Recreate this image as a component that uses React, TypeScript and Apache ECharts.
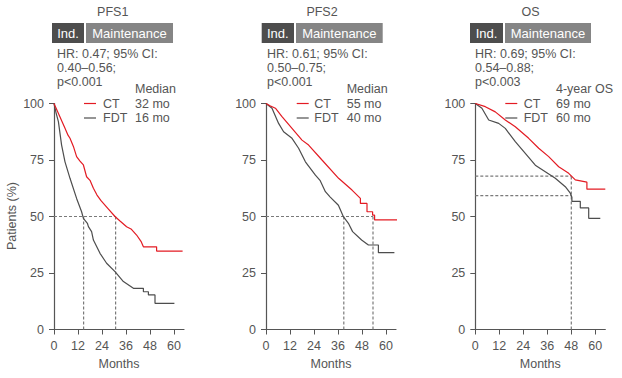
import React, { useEffect, useRef } from "react";
import * as echarts from "echarts";

// ---- data ----
const panelTitles = ["PFS1", "PFS2", "OS"];
const hrLines = [
  ["HR: 0.47; 95% CI:", "0.40–0.56;", "p<0.001"],
  ["HR: 0.61; 95% CI:", "0.50–0.75;", "p<0.001"],
  ["HR: 0.69; 95% CI:", "0.54–0.88;", "p<0.003"],
];
const statHeaders = ["Median", "Median", "4-year OS"];
const ctStats = ["32 mo", "55 mo", "69 mo"];
const fdtStats = ["16 mo", "40 mo", "60 mo"];
const seriesNames = ["CT", "FDT"];
const xTicks = [0, 12, 24, 36, 48, 60];
const yTicks = [0, 25, 50, 75, 100];

const pfs1CT = [[0,100],[2,96],[4,92],[5.5,89],[7,86],[8,84.6],[9.7,81],[11.3,76.5],[13,74.5],[14.7,72.8],[16.3,67.6],[18,66],[19.7,62.5],[21.5,59.5],[23.5,57],[27,53.5],[30.5,50],[33,48],[36.3,45.5],[38.5,44.5],[41.3,41.8],[43.5,39],[44.7,36.6],[51.3,36.6],[51.3,34.7],[64.3,34.7]];
const pfs1FDT = [[0,100],[1,96],[2.2,92],[3.8,81.6],[5.5,74.2],[8,66.9],[11.3,58],[13.8,52.1],[14.7,49.2],[16.7,47],[17.2,45.5],[18.8,43.3],[19.7,39.6],[23,33.7],[26.3,29.3],[30.5,25.6],[34.7,21.2],[39.7,18.2],[44.7,18.2],[44.7,16.7],[47.2,16.7],[47.2,15.3],[50.5,15.3],[50.5,11.6],[60.2,11.6]];
const pfs2CT = [[0,100],[2,99],[4.7,97.9],[8,94.2],[13,89],[18,83.8],[21.3,81.6],[28,75],[36.3,66.9],[43,61.7],[47.2,58],[47.2,55.8],[50.5,55.8],[50.5,52.1],[53.3,52.1],[53.3,50.6],[54.3,50.6],[54.3,48.5],[65.5,48.5]];
const pfs2FDT = [[0,100],[3,97.9],[6.3,91.2],[8.8,87.5],[13,84.6],[16.3,80.2],[19.7,74.2],[24.7,68.3],[27,66],[29.7,61],[32,58.7],[36.2,55],[38.7,49.9],[41.2,47],[43.3,43.3],[47.8,39.6],[51.2,37.4],[56.2,37.4],[56.2,34],[64.2,34]];
const osCT = [[0,100],[5,98.6],[10,96.3],[15,92.7],[20,89.7],[26.7,84.6],[31.7,80.2],[36.7,76.5],[41.7,72],[46.7,69.1],[50,66.2],[55.8,65.2],[55.8,62.1],[65,62.1]];
const osFDT = [[0,100],[3.3,97.9],[6.7,92.7],[11.7,91.2],[15,89],[20,83.1],[25,77.9],[30,72.7],[35,69.8],[40,66.9],[45,63.2],[47.5,60.3],[48.3,58.5],[48.3,56.7],[52.5,56.7],[52.5,53.8],[56.7,53.8],[56.7,49.2],[62.5,49.2]];

const pfs1Ref = [[[0,50],[30.8,50]],[[14.8,0],[14.8,50]],[[30.8,0],[30.8,50]]];
const pfs2Ref = [[[0,50],[53.5,50]],[[38.9,0],[38.9,50]],[[53.5,0],[53.5,50]]];
const osRef = [[[0,67.9],[48,67.9]],[[0,59.2],[48,59.2]],[[48,0],[48,67.9]]];

const ctData = [pfs1CT, pfs2CT, osCT];
const fdtData = [pfs1FDT, pfs2FDT, osFDT];
const refData = [pfs1Ref, pfs2Ref, osRef];

const FONT = "'Liberation Sans', Arial, sans-serif";
const TXT = "#555555";
const RED = "#e31b23";
const GRAY = "#4d4d4d";

export default function App() {
  const ref = useRef<HTMLDivElement>(null);
  useEffect(() => {
    if (!ref.current) return;
    const chart = echarts.init(ref.current, undefined, { renderer: "svg" });
    const gridLefts = [54, 266, 475.3];
    const grids = gridLefts.map((l) => ({ left: l, top: 103.5, width: 130, height: 226 }));
    const xAxes = gridLefts.map((_, i) => ({
      type: "value", gridIndex: i, min: 0, max: 65,
      splitLine: { show: false },
      axisLine: { lineStyle: { color: "#555", width: 1.2 } },
      axisTick: { customValues: xTicks, length: 5, lineStyle: { color: "#555" } },
      axisLabel: { customValues: xTicks, color: TXT, fontSize: 12.5, fontFamily: FONT, margin: 10 },
      name: "Months", nameLocation: "middle", nameGap: 28,
      nameTextStyle: { color: TXT, fontSize: 12.5, fontFamily: FONT },
    }));
    const yAxes = gridLefts.map((_, i) => ({
      type: "value", gridIndex: i, min: 0, max: 100, interval: 25,
      splitLine: { show: false },
      axisLine: { show: true, lineStyle: { color: "#555", width: 1.2 } },
      axisTick: { show: true, length: 5, lineStyle: { color: "#555" } },
      axisLabel: { color: TXT, fontSize: 12.5, fontFamily: FONT, margin: 10 },
    }));
    const series: any[] = [];
    for (let i = 0; i < 3; i++) {
      refData[i].forEach((seg) => {
        series.push({
          type: "line", xAxisIndex: i, yAxisIndex: i, data: seg, showSymbol: false, silent: true,
          lineStyle: { color: "#7a7a7a", width: 1.2, type: [3, 2] },
        });
      });
      series.push({
        type: "line", name: seriesNames[1], xAxisIndex: i, yAxisIndex: i, data: fdtData[i], showSymbol: false,
        lineStyle: { color: GRAY, width: 1.2 },
      });
      series.push({
        type: "line", name: seriesNames[0], xAxisIndex: i, yAxisIndex: i, data: ctData[i], showSymbol: false,
        lineStyle: { color: RED, width: 1.2 },
      });
    }
    const titleX = [112.7, 322, 530.5];
    const indBox = [[52, 84, 86, 173], [261.7, 294, 296, 382.7], [470, 503, 505, 591]];
    const hrX = [57, 267, 475];
    const statX = [135, 346.7, 556];
    const legLineX = [84, 296.7, 505.3];
    const legTextX = [103, 314.3, 523.7];
    const graphic: any[] = [];
    const txt = (x: number, y: number, text: string, extra: any = {}) => ({
      type: "text", x, y,
      style: { text, fill: TXT, font: `12.5px ${FONT}`, lineHeight: 14, textVerticalAlign: "middle", ...extra },
    });
    for (let i = 0; i < 3; i++) {
      graphic.push(txt(titleX[i], 12, panelTitles[i], { textAlign: "center" }));
      const b = indBox[i];
      graphic.push({ type: "rect", shape: { x: b[0], y: 23, width: b[1] - b[0], height: 20 }, style: { fill: "#4d4d4d" } });
      graphic.push({ type: "rect", shape: { x: b[2], y: 23, width: b[3] - b[2], height: 20 }, style: { fill: "#858585" } });
      graphic.push(txt((b[0] + b[1]) / 2, 33, "Ind.", { textAlign: "center", fill: "#fff", font: `13px ${FONT}` }));
      graphic.push(txt((b[2] + b[3]) / 2, 33, "Maintenance", { textAlign: "center", fill: "#fff", font: `13px ${FONT}` }));
      graphic.push(txt(hrX[i], 68, hrLines[i].join("\n")));
      graphic.push(txt(statX[i], 103.5, [statHeaders[i], ctStats[i], fdtStats[i]].join("\n"), { lineHeight: 14.5 }));
      graphic.push({ type: "line", shape: { x1: legLineX[i], y1: 103.5, x2: legLineX[i] + 12, y2: 103.5 }, style: { stroke: RED, lineWidth: 1.2 } });
      graphic.push({ type: "line", shape: { x1: legLineX[i], y1: 118, x2: legLineX[i] + 12, y2: 118 }, style: { stroke: GRAY, lineWidth: 1.2 } });
      graphic.push(txt(legTextX[i], 110.75, seriesNames.join("\n"), { lineHeight: 14.5 }));
    }
    graphic.push({
      type: "text", x: 12, y: 216, rotation: Math.PI / 2,
      style: { text: "Patients (%)", fill: TXT, font: `12.5px ${FONT}`, textAlign: "center", textVerticalAlign: "middle" },
    });
    chart.setOption({
      animation: false,
      grid: grids,
      xAxis: xAxes,
      yAxis: yAxes,
      series,
      graphic,
    });
    return () => chart.dispose();
  }, []);
  return <div ref={ref} style={{ width: 622, height: 378, position: "absolute", left: 0, top: 0 }} />;
}
